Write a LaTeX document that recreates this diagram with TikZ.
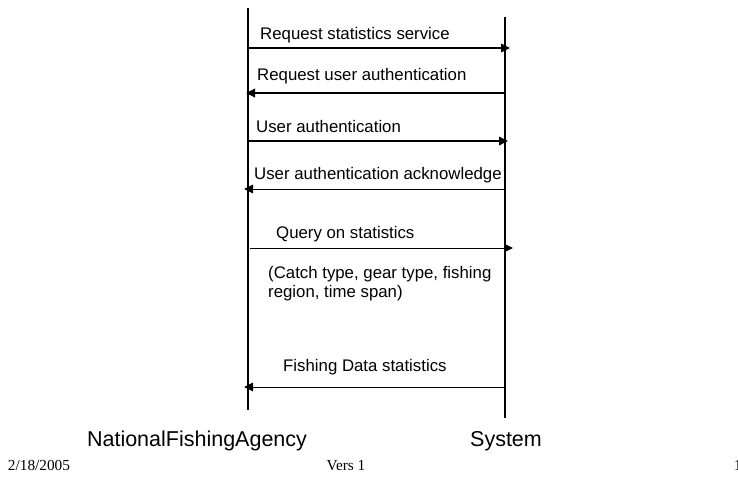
\documentclass[tikz,border=0pt]{standalone}
\usepackage{fontspec}
\setmainfont{Liberation Serif}
\setsansfont{Liberation Sans}
\usetikzlibrary{arrows.meta}
\begin{document}
\begin{tikzpicture}[x=1pt,y=-1pt,
  lifeline/.style={line width=2pt},
  msgthick/.style={line width=1.8pt,-{Triangle[length=9pt,width=8.5pt]}},
  msgthin/.style={line width=1pt,-{Triangle[length=9pt,width=8.5pt]}},
  lbl/.style={font=\sffamily\fontsize{16.8}{19}\selectfont,anchor=west,inner sep=0pt},
  actor/.style={font=\sffamily\fontsize{21.5}{24}\selectfont,inner sep=0pt},
  foot/.style={font=\rmfamily\fontsize{15.3}{17}\selectfont,inner sep=0pt,anchor=base}]
\useasboundingbox (0,0) rectangle (738,485);
\clip (0,0) rectangle (738,485);
% lifelines
\coordinate (Ltop) at (248,8);
\coordinate (Lbot) at (248,410);
\coordinate (Rtop) at (505,17);
\coordinate (Rbot) at (505,418);
\draw[lifeline] (Ltop) -- (Lbot);
\draw[lifeline] (Rtop) -- (Rbot);
% message endpoints
\coordinate (a1) at (248,48);  \coordinate (b1) at (510,48);
\coordinate (a2) at (505,93);  \coordinate (b2) at (246,93);
\coordinate (a3) at (248,141); \coordinate (b3) at (508,141);
\coordinate (a4) at (505,189); \coordinate (b4) at (244,189);
\coordinate (a5) at (250,248); \coordinate (b5) at (513,248);
\coordinate (a6) at (505,387); \coordinate (b6) at (244,387);
\draw[msgthick] (a1) -- (b1);
\draw[msgthick] (a2) -- (b2);
\draw[msgthick] (a3) -- (b3);
\draw[msgthin] (a4) -- (b4);
\draw[msgthin] (a5) -- (b5);
\draw[msgthin] (a6) -- (b6);
% labels
\node[lbl] (t1) at (260,35) {Request statistics service};
\node[lbl] (t2) at (257,76) {Request user authentication};
\node[lbl] (t3) at (256,126) {User authentication};
\node[lbl] (t4) at (254,175) {User authentication acknowledge};
\node[lbl] (t5) at (276,234) {Query on statistics};
\node[lbl,align=left] (t6) at (268,284) {(Catch type, gear type, fishing\\[0pt]region, time span)};
\node[lbl] (t7) at (283,367) {Fishing Data statistics};
% actors
\node[actor] (nfa) at (197,441) {NationalFishingAgency};
\node[actor] (sys) at (506,441) {System};
% footer
\node[foot] (date) at (39,470) {2/18/2005};
\node[foot] (vers) at (346,470) {Vers 1};
\node[foot] (page) at (738,470) {1};
\end{tikzpicture}
\end{document}
